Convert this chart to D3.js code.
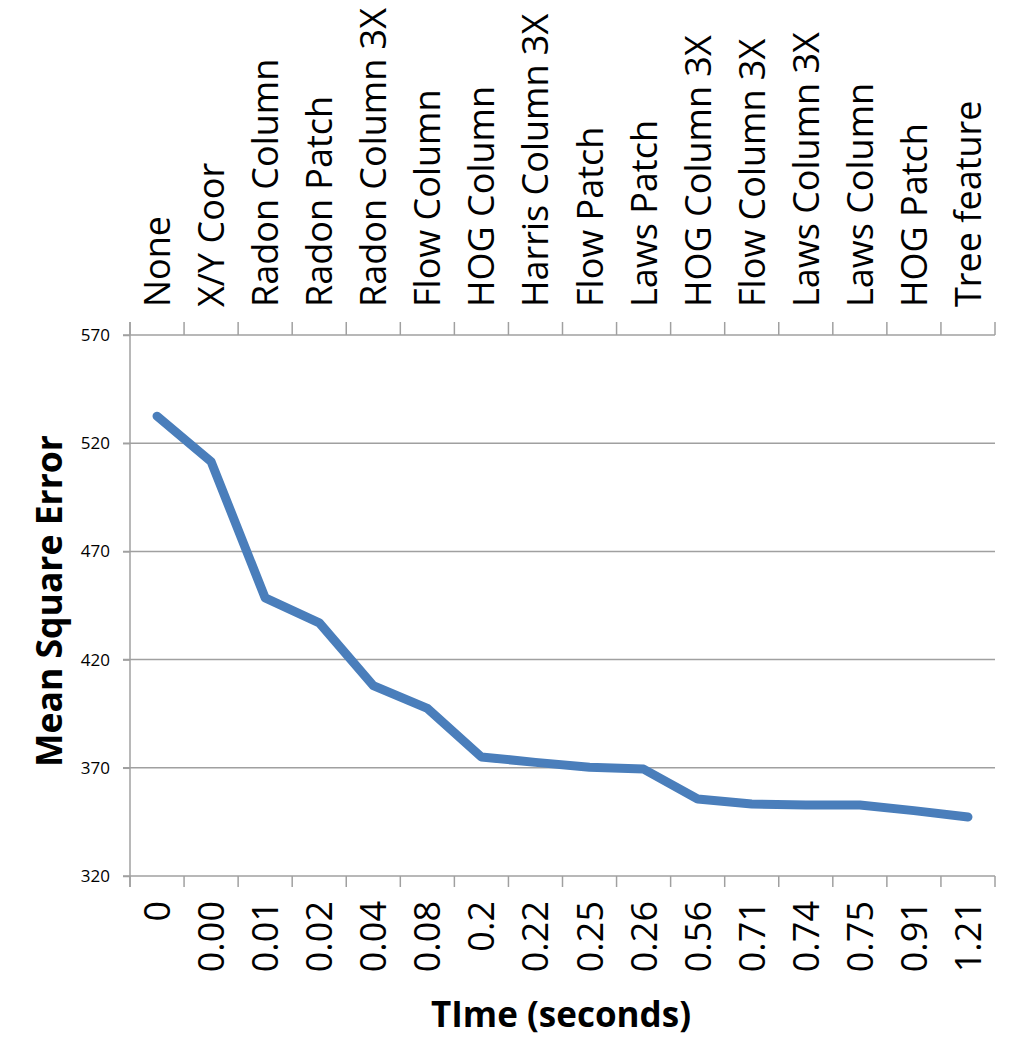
<!DOCTYPE html>
<html>
<head>
<meta charset="utf-8">
<script src="https://cdn.jsdelivr.net/npm/d3@7"></script>
<style>
  body { margin: 0; background: #fff; }
  text { font-family: "Open Sans", sans-serif; fill: #000; }
</style>
</head>
<body>
<script>
// feature added at each step (top axis)
var features = ["None", "X/Y Coor", "Radon Column", "Radon Patch", "Radon Column 3X",
  "Flow Column", "HOG Column", "Harris Column 3X", "Flow Patch", "Laws Patch",
  "HOG Column 3X", "Flow Column 3X", "Laws Column 3X", "Laws Column", "HOG Patch", "Tree feature"];
// time labels (bottom axis)
var times = ["0", "0.00", "0.01", "0.02", "0.04", "0.08", "0.2", "0.22", "0.25", "0.26",
  "0.56", "0.71", "0.74", "0.75", "0.91", "1.21"];
// mean square error
var mse = [532.5, 511.5, 448.5, 437, 408, 397.5, 375, 372.5, 370.3, 369.4,
  355.6, 353.3, 352.8, 352.8, 350.2, 347.3];
var yTicks = [320, 370, 420, 470, 520, 570];

var W = 1014, H = 1041;
var pLeft = 130, pRight = 995, pTop = 335, pBottom = 876;
var gridColor = "#a0a0a0";

var svg = d3.select("body").append("svg")
    .attr("width", W)
    .attr("height", H);

var x = d3.scaleBand()
    .domain(d3.range(features.length))
    .range([pLeft, pRight]);

var y = d3.scaleLinear()
    .domain([320, 570])
    .range([pBottom, pTop]);

// gridlines
svg.append("g")
  .selectAll("line")
  .data(yTicks)
  .enter().append("line")
    .attr("x1", pLeft - 7)
    .attr("x2", pRight)
    .attr("y1", function(d) { return y(d); })
    .attr("y2", function(d) { return y(d); })
    .attr("stroke", gridColor)
    .attr("stroke-width", 1.5);

// y axis
var yAxis = svg.append("g")
    .attr("transform", "translate(" + pLeft + ",0)")
    .call(d3.axisLeft(y).tickValues(yTicks).tickSize(7).tickPadding(13));
yAxis.selectAll("path, line").attr("stroke", gridColor).attr("stroke-width", 1.5);
yAxis.select(".domain").attr("d", "M0," + (pTop - 13) + "V" + (pBottom + 11));
yAxis.selectAll("text")
    .attr("font-family", "Open Sans")
    .attr("font-size", 17)
    .attr("fill", "#000");

// tick boundaries between categories
var bounds = d3.range(features.length + 1).map(function(i) { return pLeft + i * x.bandwidth(); });
svg.append("g").selectAll("line")
  .data(bounds)
  .enter().append("line")
    .attr("x1", function(d) { return d; })
    .attr("x2", function(d) { return d; })
    .attr("y1", pBottom)
    .attr("y2", pBottom + 11)
    .attr("stroke", gridColor)
    .attr("stroke-width", 1.5);
svg.append("g").selectAll("line")
  .data(bounds)
  .enter().append("line")
    .attr("x1", function(d) { return d; })
    .attr("x2", function(d) { return d; })
    .attr("y1", pTop)
    .attr("y2", pTop - 13)
    .attr("stroke", gridColor)
    .attr("stroke-width", 1.5);

// bottom labels (times)
svg.append("g").selectAll("text")
  .data(times)
  .enter().append("text")
    .attr("transform", function(d, i) {
      return "translate(" + (x(i) + x.bandwidth() / 2 + 13) + "," + (pBottom + 25) + ") rotate(-90)";
    })
    .attr("text-anchor", "end")
    .attr("font-size", 36)
    .text(function(d) { return d; });

// top labels (features)
svg.append("g").selectAll("text")
  .data(features)
  .enter().append("text")
    .attr("transform", function(d, i) {
      return "translate(" + (x(i) + x.bandwidth() / 2 + 13) + "," + (pTop - 28) + ") rotate(-90)";
    })
    .attr("text-anchor", "start")
    .attr("font-size", 36)
    .text(function(d) { return d; });

// line
var line = d3.line()
    .x(function(d, i) { return x(i) + x.bandwidth() / 2; })
    .y(function(d) { return y(d); });

svg.append("path")
    .datum(mse)
    .attr("d", line)
    .attr("fill", "none")
    .attr("stroke", "#4a7ebb")
    .attr("stroke-width", 9)
    .attr("stroke-linecap", "round")
    .attr("stroke-linejoin", "round");

// axis titles
svg.append("text")
    .attr("transform", "translate(62,601) rotate(-90)")
    .attr("text-anchor", "middle")
    .attr("font-size", 35.5)
    .attr("font-weight", "bold")
    .text("Mean Square Error");

svg.append("text")
    .attr("x", 561)
    .attr("y", 1027)
    .attr("text-anchor", "middle")
    .attr("font-size", 35)
    .attr("font-weight", "bold")
    .text("TIme (seconds)");
</script>
</body>
</html>
